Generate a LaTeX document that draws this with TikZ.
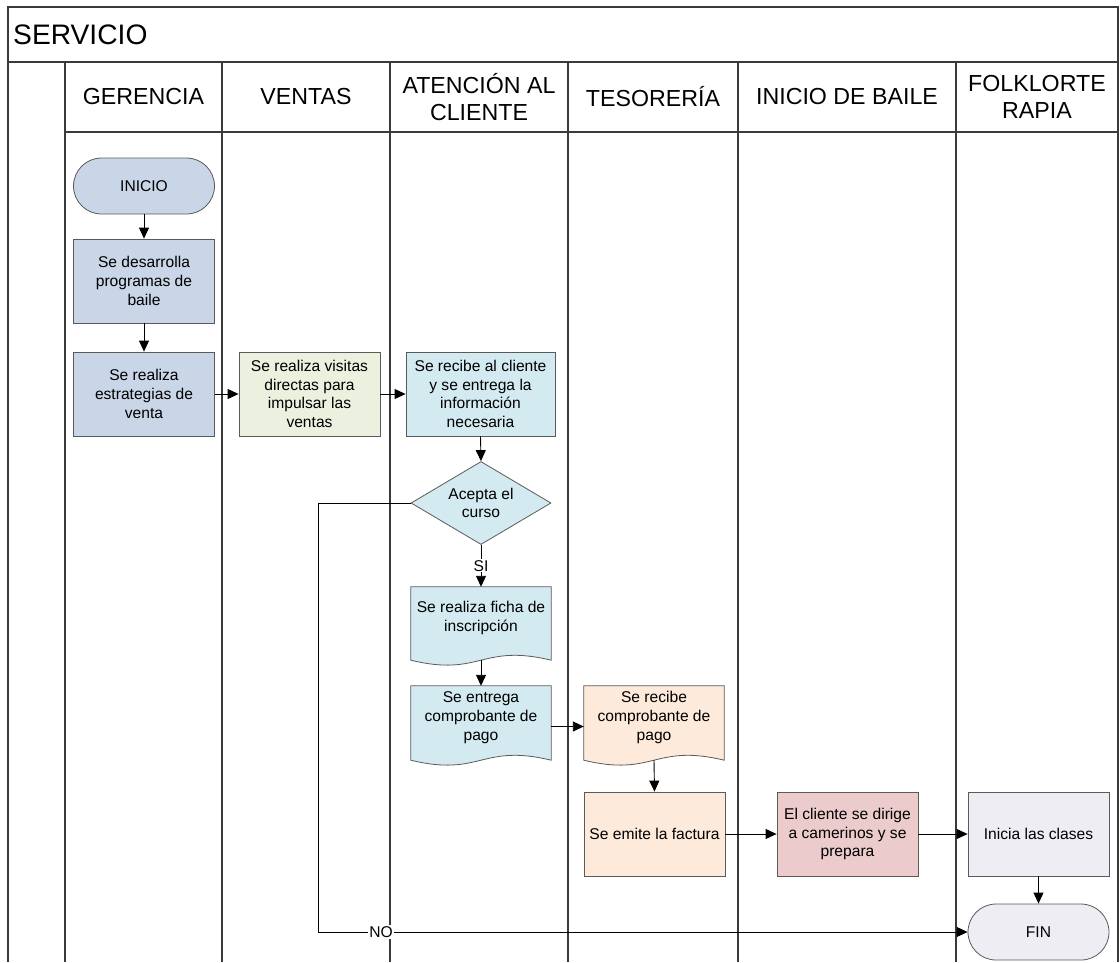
\documentclass[tikz,border=0pt]{standalone}
\usepackage{fontspec}
\setmainfont{Liberation Sans}
\usetikzlibrary{arrows.meta,shapes.geometric,calc,backgrounds}
\definecolor{gerfill}{HTML}{C9D6E7}
\definecolor{venfill}{HTML}{EBF1DE}
\definecolor{atefill}{HTML}{D4EAF1}
\definecolor{tesfill}{HTML}{FDEADA}
\definecolor{baifill}{HTML}{EBCBCB}
\definecolor{folfill}{HTML}{EEEDF3}
\definecolor{bordergray}{HTML}{5A5A5A}
\definecolor{gridgray}{HTML}{3A3A3A}
\newcommand{\myNodeFont}{\fontsize{15.6}{18.8}\selectfont}
\newcommand{\myHeadFont}{\fontsize{23.2}{27}\selectfont}
\newcommand{\docshape}[2]{%
  \draw[bordergray, line width=0.8pt, fill=#2] (#1.north west) -- (#1.north east)
    -- ($(#1.south east)+(0,11)$)
    .. controls ($(#1.south)+(0,-6)$) and ($(#1.south)+(0,28)$) ..
    ($(#1.south west)+(0,11)$) -- cycle;}
\begin{document}
\begin{tikzpicture}[x=1pt,y=-1pt,
  gridline/.style={draw=gridgray, line width=1.2pt},
  head/.style={font=\myHeadFont, align=center, inner sep=0pt},
  box/.style={draw=bordergray, line width=0.8pt, align=center, font=\myNodeFont, inner sep=2pt},
  proc/.style={box, rectangle, minimum width=141pt, minimum height=84pt},
  term/.style={box, rectangle, rounded corners=28pt, minimum width=141pt, minimum height=56pt},
  docnode/.style={align=center, font=\myNodeFont, inner sep=0pt, minimum width=140pt},
  conn/.style={draw=black, line width=0.9pt, -{Triangle[length=11pt,width=10pt]}},
  lbl/.style={fill=white, inner sep=1pt, font=\myNodeFont}]
\useasboundingbox (0,0) rectangle (1120,962);
% frame and lanes
\draw[gridline] (8,962) -- (8,7) -- (1118,7) -- (1118,962);
\draw[gridline] (8,62) -- (1118,62);
\draw[gridline] (65,132) -- (1118,132);
\foreach \lx in {65,222,390,568,738,956} {\draw[gridline] (\lx,62) -- (\lx,962);}
\node[font=\fontsize{28.2}{32}\selectfont, anchor=west, inner sep=0pt] (title) at (13,35) {SERVICIO};
\node[head] (hger) at (143.5,97) {GERENCIA};
\node[head] (hven) at (306,97) {VENTAS};
\node[head] (hate) at (479,97) {ATENCIÓN AL\\CLIENTE};
\node[head] (htes) at (653,97) {TESORERÍA};
\node[head] (hbai) at (847,97) {INICIO DE BAILE};
\node[head] (hfol) at (1037,97) {FOLKLORTE\\RAPIA};
% nodes
\node[term, fill=gerfill] (inicio) at (144,186) {INICIO};
\node[proc, fill=gerfill] (desa) at (144,281) {Se desarrolla\\programas de\\baile};
\node[proc, fill=gerfill] (estr) at (144,394) {Se realiza\\estrategias de\\venta};
\node[proc, fill=venfill] (visi) at (309.5,394) {Se realiza visitas\\directas para\\impulsar las\\ventas};
\node[proc, fill=atefill, minimum width=149pt] (reci) at (480.5,394) {Se recibe al cliente\\y se entrega la\\información\\necesaria};
\node[box, diamond, fill=atefill, aspect=1.69, minimum width=140pt, minimum height=83pt, inner sep=0pt] (dec) at (481,503) {Acepta el\\curso};
\node[docnode, minimum height=62pt] (ficha) at (481,618) {Se realiza ficha de\\inscripción};
\node[docnode, minimum height=63pt] (entrega) at (481,717.5) {Se entrega\\comprobante de\\pago};
\node[docnode, minimum height=63pt] (recibec) at (654,717.5) {Se recibe\\comprobante de\\pago};
\node[proc, fill=tesfill] (factura) at (654.5,834) {Se emite la factura};
\node[proc, fill=baifill] (cliente) at (847.5,834) {El cliente se dirige\\a camerinos y se\\prepara};
\node[proc, fill=folfill] (inicia) at (1038.5,834) {Inicia las clases};
\node[term, fill=folfill] (fin) at (1038.5,932) {FIN};
\begin{scope}[on background layer]
  \docshape{ficha}{atefill}
  \docshape{entrega}{atefill}
  \docshape{recibec}{tesfill}
\end{scope}
% connectors
\draw[conn] (inicio.south) -- (desa.north);
\draw[conn] (desa.south) -- (estr.north);
\draw[conn] (estr.east) -- (visi.west);
\draw[conn] (visi.east) -- (reci.west);
\draw[conn] (reci.south) -- (dec.north);
\draw[conn] (dec.south) -- node[lbl] (si) {SI} (ficha.north);
\draw[conn] ($(ficha.south)+(0,11)$) -- (entrega.north);
\draw[conn] ($(entrega.east)+(0,9)$) -- ($(recibec.west)+(0,9)$);
\draw[conn] ($(recibec.south)+(0,11)$) -- (factura.north);
\draw[conn] (factura.east) -- (cliente.west);
\draw[conn] (cliente.east) -- (inicia.west);
\draw[conn] (inicia.south) -- (fin.north);
\coordinate (nocorner) at (318,932);
\draw[conn] (dec.west) -| (nocorner) -- (fin.west);
\node[lbl] (no) at (381,932) {NO};
\end{tikzpicture}
\end{document}
